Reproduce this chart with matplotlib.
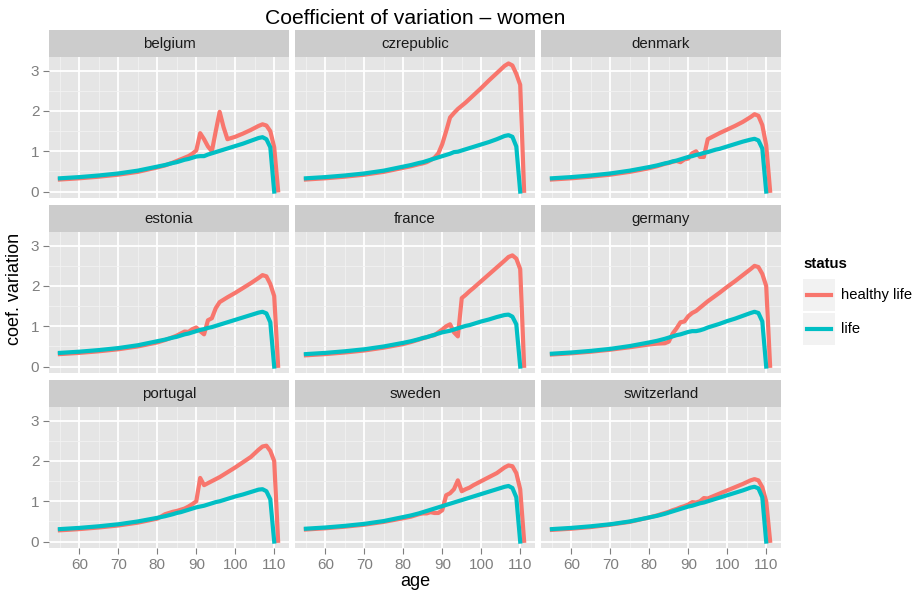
import matplotlib.pyplot as plt
from matplotlib.lines import Line2D

plt.rcParams['font.family'] = ['Liberation Sans', 'DejaVu Sans']

# ages at which the coefficients were sampled
ages = [55, 60, 65, 70, 75, 80, 82, 84, 85, 86, 87, 88, 89, 90, 91, 92, 93, 94, 95,
        96, 97, 98, 100, 102, 104, 106, 107, 108, 109, 110, 111]

countries = ['belgium', 'czrepublic', 'denmark', 'estonia', 'france', 'germany',
             'portugal', 'sweden', 'switzerland']

# total life (stops at 110)
life_belgium = [0.33, 0.36, 0.40, 0.45, 0.52, 0.62, 0.66, 0.71, 0.73, 0.76, 0.79, 0.81, 0.84, 0.87, 0.88,
                0.88, 0.92, 0.95, 0.98, 1.01, 1.04, 1.07, 1.13, 1.19, 1.26, 1.33, 1.35, 1.30, 1.10, 0.0]
life_czrepublic = [0.33, 0.36, 0.40, 0.45, 0.52, 0.62, 0.66, 0.71, 0.73, 0.76, 0.79, 0.82, 0.85, 0.88, 0.91,
                   0.94, 0.98, 0.99, 1.02, 1.05, 1.08, 1.11, 1.17, 1.23, 1.30, 1.38, 1.40, 1.36, 1.12, 0.0]
life_denmark = [0.33, 0.36, 0.40, 0.45, 0.52, 0.61, 0.65, 0.70, 0.72, 0.75, 0.77, 0.80, 0.83, 0.86, 0.88,
                0.91, 0.93, 0.96, 0.98, 1.01, 1.04, 1.06, 1.12, 1.18, 1.24, 1.29, 1.31, 1.27, 1.07, 0.0]
life_estonia = [0.34, 0.37, 0.41, 0.46, 0.53, 0.63, 0.67, 0.72, 0.74, 0.77, 0.80, 0.82, 0.85, 0.88, 0.91,
                0.93, 0.96, 0.98, 1.01, 1.04, 1.07, 1.10, 1.16, 1.22, 1.28, 1.34, 1.36, 1.32, 1.10, 0.0]
life_france = [0.31, 0.34, 0.38, 0.43, 0.50, 0.59, 0.63, 0.68, 0.71, 0.73, 0.76, 0.79, 0.82, 0.85, 0.87,
               0.89, 0.92, 0.95, 0.98, 1.01, 1.03, 1.06, 1.12, 1.17, 1.23, 1.28, 1.29, 1.24, 1.05, 0.0]
life_germany = [0.32, 0.35, 0.39, 0.44, 0.51, 0.60, 0.64, 0.69, 0.72, 0.75, 0.78, 0.80, 0.83, 0.86, 0.88,
                0.88, 0.90, 0.93, 0.97, 1.00, 1.03, 1.06, 1.13, 1.19, 1.26, 1.33, 1.36, 1.33, 1.12, 0.0]
life_portugal = [0.31, 0.34, 0.38, 0.43, 0.50, 0.59, 0.63, 0.68, 0.71, 0.73, 0.76, 0.79, 0.82, 0.85, 0.87,
                 0.89, 0.92, 0.95, 0.98, 1.00, 1.03, 1.06, 1.12, 1.17, 1.23, 1.29, 1.30, 1.25, 1.05, 0.0]
life_sweden = [0.32, 0.35, 0.39, 0.44, 0.51, 0.61, 0.65, 0.70, 0.73, 0.76, 0.79, 0.82, 0.85, 0.88, 0.91,
               0.94, 0.97, 1.00, 1.03, 1.06, 1.09, 1.12, 1.18, 1.24, 1.30, 1.36, 1.38, 1.33, 1.10, 0.0]
life_switzerland = [0.31, 0.34, 0.38, 0.43, 0.50, 0.60, 0.64, 0.69, 0.72, 0.75, 0.78, 0.81, 0.84, 0.87, 0.89,
                    0.92, 0.95, 0.97, 1.00, 1.03, 1.06, 1.09, 1.15, 1.21, 1.27, 1.34, 1.36, 1.32, 1.10, 0.0]

# healthy life (runs to 111)
healthy_belgium = [0.30, 0.33, 0.37, 0.42, 0.49, 0.60, 0.65, 0.72, 0.76, 0.80, 0.84, 0.88, 0.94, 1.02, 1.45, 1.30,
                   1.12, 1.00, 1.50, 1.98, 1.60, 1.30, 1.36, 1.44, 1.53, 1.63, 1.67, 1.64, 1.50, 1.10, 0.03]
healthy_czrepublic = [0.30, 0.33, 0.37, 0.42, 0.49, 0.59, 0.63, 0.68, 0.70, 0.73, 0.78, 0.84, 0.95, 1.18, 1.50, 1.84,
                      1.95, 2.05, 2.13, 2.21, 2.30, 2.39, 2.57, 2.76, 2.94, 3.12, 3.18, 3.13, 2.92, 2.65, 0.02]
healthy_denmark = [0.30, 0.33, 0.37, 0.42, 0.49, 0.58, 0.63, 0.69, 0.71, 0.74, 0.76, 0.73, 0.80, 0.82, 0.95, 1.00,
                   0.86, 0.86, 1.30, 1.35, 1.40, 1.45, 1.54, 1.63, 1.73, 1.85, 1.92, 1.88, 1.65, 1.15, 0.02]
healthy_estonia = [0.31, 0.34, 0.38, 0.43, 0.50, 0.60, 0.66, 0.73, 0.77, 0.82, 0.87, 0.86, 0.93, 0.97, 0.88, 0.80,
                   1.15, 1.20, 1.45, 1.60, 1.66, 1.72, 1.83, 1.95, 2.07, 2.20, 2.27, 2.24, 2.05, 1.75, 0.02]
healthy_france = [0.28, 0.31, 0.35, 0.40, 0.47, 0.56, 0.61, 0.67, 0.70, 0.73, 0.76, 0.78, 0.85, 0.92, 1.00, 1.05,
                  0.85, 0.75, 1.70, 1.78, 1.87, 1.95, 2.12, 2.29, 2.46, 2.63, 2.72, 2.76, 2.68, 2.42, 0.02]
healthy_germany = [0.30, 0.33, 0.37, 0.42, 0.48, 0.55, 0.57, 0.58, 0.62, 0.82, 0.95, 1.10, 1.12, 1.25, 1.33, 1.38,
                   1.46, 1.54, 1.62, 1.69, 1.76, 1.83, 1.98, 2.12, 2.27, 2.42, 2.50, 2.47, 2.30, 2.00, 0.02]
healthy_portugal = [0.28, 0.31, 0.35, 0.40, 0.47, 0.57, 0.68, 0.74, 0.76, 0.79, 0.82, 0.87, 0.93, 1.00, 1.58, 1.40,
                    1.45, 1.50, 1.55, 1.60, 1.66, 1.72, 1.84, 1.97, 2.10, 2.28, 2.36, 2.38, 2.25, 2.00, 0.02]
healthy_sweden = [0.30, 0.33, 0.37, 0.42, 0.49, 0.58, 0.62, 0.68, 0.70, 0.70, 0.73, 0.71, 0.71, 0.78, 1.15, 1.20,
                  1.30, 1.52, 1.25, 1.30, 1.34, 1.40, 1.50, 1.60, 1.70, 1.84, 1.89, 1.87, 1.70, 1.30, 0.02]
healthy_switzerland = [0.29, 0.32, 0.36, 0.42, 0.49, 0.60, 0.65, 0.71, 0.74, 0.78, 0.81, 0.85, 0.88, 0.92, 0.98, 0.97,
                       1.00, 1.08, 1.07, 1.11, 1.15, 1.19, 1.27, 1.35, 1.43, 1.52, 1.55, 1.52, 1.35, 1.00, 0.02]

life = [life_belgium, life_czrepublic, life_denmark, life_estonia, life_france,
        life_germany, life_portugal, life_sweden, life_switzerland]
healthy = [healthy_belgium, healthy_czrepublic, healthy_denmark, healthy_estonia, healthy_france,
           healthy_germany, healthy_portugal, healthy_sweden, healthy_switzerland]

red = '#F8766D'
teal = '#00BFC4'

W, H = 914, 596
fig = plt.figure(figsize=(W / 100, H / 100), dpi=100)


def box(x, y, w, h):
    # pixel box (top-left origin) -> figure fraction
    return [x / W, 1 - (y + h) / H, w / W, h / H]


col_left = [49, 295, 541]
row_top = [30, 205, 380]
panel_w, strip_h, panel_h = 240, 27, 141

for i, country in enumerate(countries):
    r, c = divmod(i, 3)
    x0, y0 = col_left[c], row_top[r]

    sax = fig.add_axes(box(x0, y0, panel_w, strip_h))
    sax.set_facecolor('#CCCCCC')
    sax.set_xticks([])
    sax.set_yticks([])
    for s in sax.spines.values():
        s.set_visible(False)
    sax.text(0.5, 0.48, country, ha='center', va='center', fontsize=10.8,
             color='#1A1A1A', transform=sax.transAxes)

    ax = fig.add_axes(box(x0, y0 + strip_h, panel_w, panel_h))
    ax.set_facecolor('#E5E5E5')
    for s in ax.spines.values():
        s.set_visible(False)
    ax.set_xlim(52.2, 113.8)
    ax.set_ylim(-0.159, 3.34)
    ax.set_xticks([60, 70, 80, 90, 100, 110])
    ax.set_xticks([55, 65, 75, 85, 95, 105], minor=True)
    ax.set_yticks([0, 1, 2, 3])
    ax.set_yticks([0.5, 1.5, 2.5], minor=True)
    ax.grid(which='major', color='white', linewidth=1.3)
    ax.grid(which='minor', color='#F2F2F2', linewidth=0.6)
    ax.set_axisbelow(True)
    ax.tick_params(which='minor', length=0)
    ax.tick_params(which='major', length=4, width=0.8, color='#7F7F7F',
                   labelcolor='#7F7F7F', labelsize=11, pad=3)
    if c != 0:
        ax.tick_params(axis='y', left=False, labelleft=False)
    if r != 2:
        ax.tick_params(axis='x', bottom=False, labelbottom=False)

    ax.plot(ages, healthy[i], color=red, linewidth=3.0, solid_joinstyle='round')
    ax.plot(ages[:len(life[i])], life[i], color=teal, linewidth=3.0, solid_joinstyle='round')

fig.text(415.5 / W, 1 - 18 / H, 'Coefficient of variation \u2013 women', ha='center', va='center',
         fontsize=15.2, color='black')
fig.text(415.5 / W, 1 - 582 / H, 'age', ha='center', va='center', fontsize=13)
fig.text(15 / W, 1 - 289 / H, 'coef. variation', ha='center', va='center', rotation=90, fontsize=13)

# legend
fig.text(803 / W, 1 - 264 / H, 'status', ha='left', va='center', fontsize=10.8, fontweight='bold')
for k, (label, col) in enumerate([('healthy life', red), ('life', teal)]):
    ky = 279 + k * 34
    kax = fig.add_axes(box(803, ky, 32, 32))
    kax.set_facecolor('#F2F2F2')
    kax.set_xticks([])
    kax.set_yticks([])
    for s in kax.spines.values():
        s.set_visible(False)
    kax.set_xlim(0, 1)
    kax.set_ylim(0, 1)
    kax.add_line(Line2D([0.12, 0.88], [0.5, 0.5], color=col, linewidth=3.0))
    fig.text(841 / W, 1 - (ky + 16) / H, label, ha='left', va='center', fontsize=10.6)

fig.savefig('out.png', dpi=100)
